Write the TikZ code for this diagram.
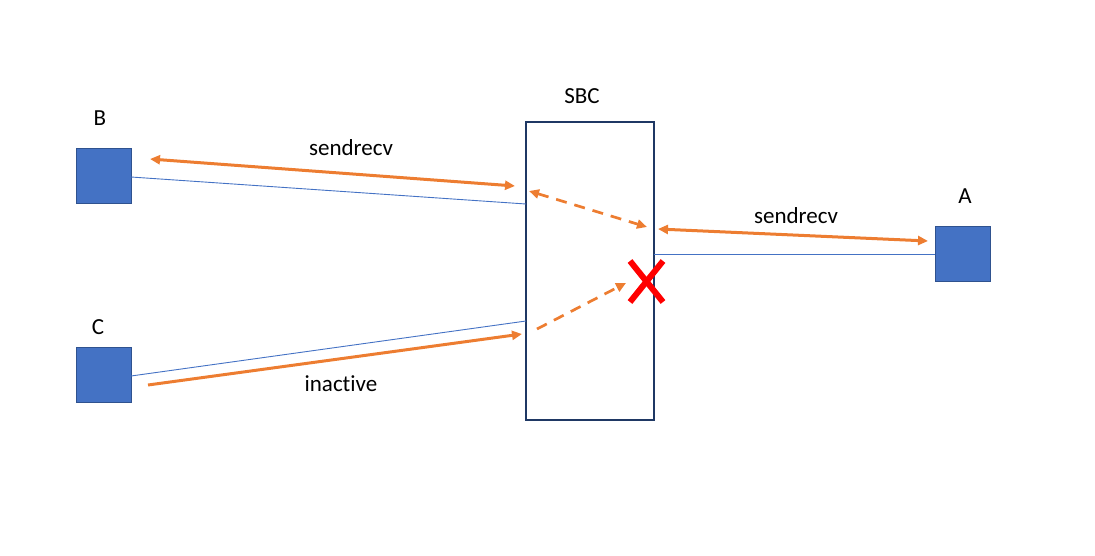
\documentclass[tikz,border=0pt]{standalone}
\usepackage{fontspec}
\setmainfont[Ligatures={NoCommon}]{Carlito}
\usetikzlibrary{arrows.meta}
\definecolor{boxblue}{HTML}{4472C4}
\definecolor{boxedge}{HTML}{2F528F}
\definecolor{sbcedge}{HTML}{1F3864}
\definecolor{org}{HTML}{ED7D31}
\begin{document}
\begin{tikzpicture}[x=1pt,y=-1pt,
  ep/.style={draw=boxedge,fill=boxblue,line width=1pt,minimum width=55pt,minimum height=55pt,inner sep=0pt},
  lbl/.style={font=\fontsize{23}{27}\selectfont,inner sep=0pt},
  wire/.style={draw=boxblue,line width=0.9pt},
  media/.style={draw=org,line width=3pt},
  dmedia/.style={draw=org,line width=2.7pt,dash pattern=on 11pt off 8pt},
  tip/.style={-{Triangle[length=10pt,width=9pt]}},
  tips/.style={{Triangle[length=10pt,width=9pt]}-{Triangle[length=10pt,width=9pt]}}]
\useasboundingbox (0,0) rectangle (1095,555);
\node[ep] (B) at (103.5,175.5) {};
\node[ep] (C) at (103.5,375) {};
\node[ep] (A) at (962.5,254) {};
\node[draw=sbcedge,line width=2pt,minimum width=128pt,minimum height=298pt,inner sep=0pt] (S) at (590,271) {};
\node[lbl] (lB) at (100,118) {B};
\node[lbl] (lC) at (98,327) {C};
\node[lbl] (lA) at (965,196) {A};
\node[lbl] (lS) at (582,96) {SBC};
\node[lbl] (t1) at (351,148) {sendrecv};
\node[lbl] (t2) at (796,216) {sendrecv};
\node[lbl] (t3) at (341,384) {inactive};
% wires
\coordinate (bw1) at (131,177); \coordinate (bw2) at (526,204);
\coordinate (cw1) at (131,376); \coordinate (cw2) at (526,321);
\coordinate (aw1) at (654,254); \coordinate (aw2) at (935,254);
\draw[wire] (bw1) -- (bw2);
\draw[wire] (cw1) -- (cw2);
\draw[wire] (aw1) -- (aw2);
% media
\coordinate (b1) at (150,159); \coordinate (b2) at (515,186);
\coordinate (c1) at (148,385); \coordinate (c2) at (522,334);
\coordinate (a1) at (658,229); \coordinate (a2) at (928,241);
\draw[media,tips] (b1) -- (b2);
\draw[media,tip] (c1) -- (c2);
\draw[media,tips] (a1) -- (a2);
\coordinate (d1) at (529,191); \coordinate (d2) at (647,227);
\coordinate (e1) at (537,329); \coordinate (e2) at (626,283);
\draw[dmedia,tips] (d1) -- (d2);
\draw[dmedia,tip] (e1) -- (e2);
% red X
\coordinate (x1) at (630,261); \coordinate (x2) at (663,302);
\coordinate (x3) at (663,261); \coordinate (x4) at (630,302);
\draw[red,line width=6pt] (x1) -- (x2);
\draw[red,line width=6pt] (x3) -- (x4);
\end{tikzpicture}
\end{document}
